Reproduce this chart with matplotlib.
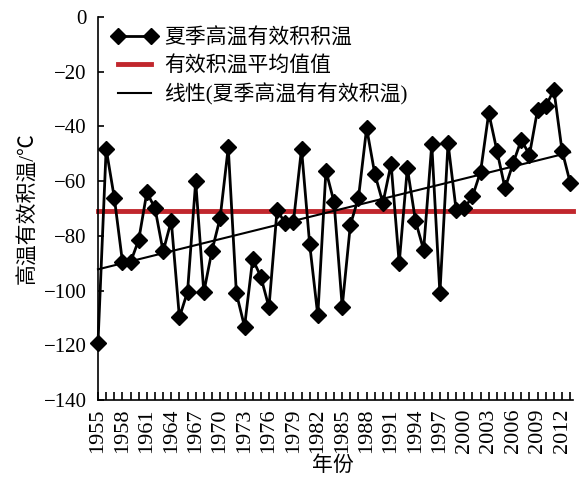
import numpy as np
import matplotlib
matplotlib.use("Agg")
import matplotlib.pyplot as plt

plt.rcParams['font.family'] = ['Liberation Serif', 'Noto Sans CJK SC']
plt.rcParams['axes.unicode_minus'] = True

# data
years = list(range(1955, 2014))
heat = [-119, -48.2, -66, -89.4, -89.6, -81.5, -64.1, -69.9, -85.7, -74.5,
        -109.8, -100.4, -60.1, -100.6, -85.4, -73.5, -47.7, -101, -113.2, -88.5,
        -94.9, -106.1, -70.5, -75.4, -75.1, -48.2, -83, -109.1, -56.2, -67.7,
        -105.9, -76, -66, -40.6, -57.3, -68, -53.7, -90, -55.2, -74.5,
        -85.1, -46.5, -101, -46.1, -70.7, -69.9, -65.6, -56.5, -35.1, -48.8,
        -62.6, -53.4, -44.9, -50.4, -33.9, -32.7, -26.6, -48.8, -60.5]
mean_val = -71
tick_years = list(range(1955, 2013, 3))

x = np.array(years)
y = np.array(heat)
k, b = np.polyfit(x, y, 1)

fig = plt.figure(figsize=(5.79, 4.78), dpi=100)
ax = fig.add_axes([98 / 579, 78 / 478, 475 / 579, 383 / 478])

ax.plot(x, y, color='black', lw=2, marker='D', ms=8, mfc='black', mec='black',
        label='夏季高温有效积积温', clip_on=False, zorder=3)
ax.plot([x[0], x[-1] + 0.3], [mean_val, mean_val], color='#c1272d', lw=3.5,
        label='有效积温平均值值', clip_on=False)
ax.plot(x, k * x + b, color='black', lw=1.5, label='线性(夏季高温有有效积温)',
        clip_on=False)

ax.set_xlim(1955, 2013.35)
ax.set_ylim(-140, 0)
ax.set_yticks(range(-140, 1, 20))
ax.set_xticks(tick_years)
ax.set_xticks(years, minor=True)
ax.set_xticklabels([str(t) for t in tick_years], rotation=90)
ax.tick_params(axis='y', direction='in', length=4, labelsize=15, width=1.2, pad=8)
ax.tick_params(axis='x', direction='in', length=6, labelsize=16, width=1.2, pad=6)
ax.tick_params(axis='x', which='minor', direction='in', length=6, width=1.2)
ax.spines['top'].set_visible(False)
ax.spines['right'].set_visible(False)
ax.spines['left'].set_linewidth(1.2)
ax.spines['bottom'].set_linewidth(1.2)

ax.set_ylabel('高温有效积温/℃', fontsize=15, labelpad=4)
ax.set_xlabel('年份', fontsize=15, va='top')
ax.xaxis.set_label_coords(0.495, -0.148)

ax.legend(loc='upper left', frameon=False, fontsize=15, numpoints=2,
          handlelength=2.2, handletextpad=0.3, borderaxespad=0.15,
          labelspacing=0.36, bbox_to_anchor=(0.005, 1.0))

fig.savefig('out.png', dpi=100)
